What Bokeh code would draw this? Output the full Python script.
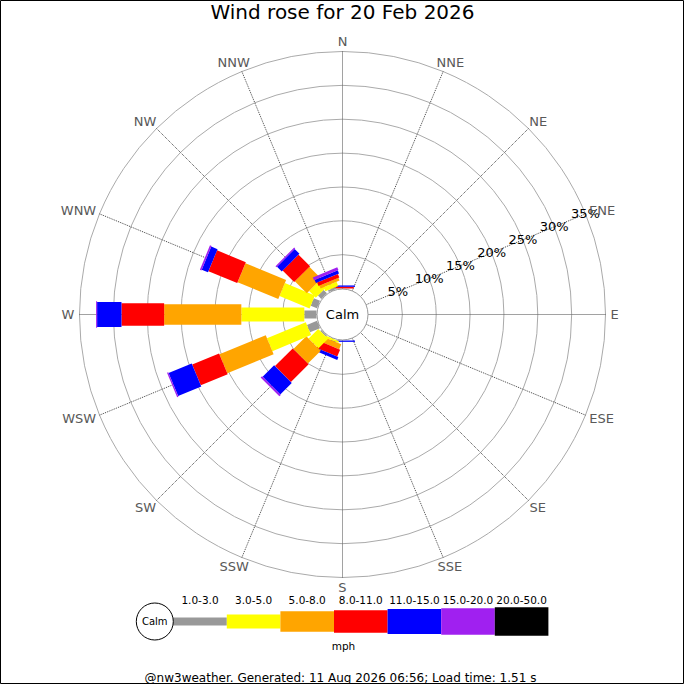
import math
from bokeh.plotting import figure
from bokeh.models import Range1d, ColumnDataSource
from bokeh.core.properties import value
from bokeh.embed import file_html
from bokeh.resources import INLINE

# ---------------- data ----------------
title_text = "Wind rose for 20 Feb 2026"
footer_text = "@nw3weather. Generated: 11 Aug 2026 06:56; Load time: 1.51 s"
calm_label = "Calm"
unit_label = "mph"
directions = ["N", "NNE", "NE", "ENE", "E", "ESE", "SE", "SSE",
              "S", "SSW", "SW", "WSW", "W", "WNW", "NW", "NNW"]
speed_bins = ["1.0-3.0", "3.0-5.0", "5.0-8.0", "8.0-11.0",
              "11.0-15.0", "15.0-20.0", "20.0-50.0"]
bin_colors = ["#999999", "#ffff00", "#ffa500", "#ff0000",
              "#0000ff", "#a020f0", "#000000"]
# percentage of time per direction (N .. NNW) for each speed bin
pct_1_3   = [0, 0, 0, 0, 0, 0, 0, 0, 0, 0,    0.2, 1.6, 1.8,  1.0,  0.7, 0.3]
pct_3_5   = [0, 0, 0, 0, 0, 0, 0, 0, 0, 0.3,  2.0, 6.2, 9.3,  4.8,  1.4, 0.65]
pct_5_8   = [0, 0, 0, 0, 0, 0, 0, 0, 0, 0.8,  2.7, 7.4, 11.4, 6.5,  2.5, 0.45]
pct_8_11  = [0.25, 0, 0, 0, 0, 0, 0, 0, 0, 1.1, 3.7, 4.3, 6.3, 4.6, 2.4, 0.55]
pct_11_15 = [0.2, 0, 0, 0, 0, 0, 0, 0, 0.2, 0.45, 2.4, 3.7, 3.6, 1.0, 1.0, 0.5]
pct_15_20 = [0, 0, 0, 0, 0, 0, 0, 0, 0, 0,    0.3, 0.2, 0.15, 0.25, 0.2, 0.45]
pct_20_50 = [0, 0, 0, 0, 0, 0, 0, 0, 0, 0,    0,   0,   0,    0,    0,   0]
ring_pcts = [5, 10, 15, 20, 25, 30, 35]

series = [pct_1_3, pct_3_5, pct_5_8, pct_8_11, pct_11_15, pct_15_20, pct_20_50]

# ---------------- layout constants (pixels) ----------------
W = H = 684
R0 = 26.0                       # calm circle radius
R_OUT = 263.0                   # radius of the outer (35%) ring
K = (R_OUT - R0) / ring_pcts[-1]  # pixels per percent
bar_widths = [8, 14, 20.5, 22.5, 25, 26.5, 28.5]
FONT = value("DejaVu Sans")


def rad(pct):
    return R0 + K * pct


p = figure(width=W, height=H, output_backend="svg", toolbar_location=None,
           x_range=Range1d(-342, 342), y_range=Range1d(-370, 314),
           min_border=0, background_fill_color="white",
           border_fill_color="white")
p.axis.visible = False
p.grid.visible = False
p.outline_line_color = "black"
p.outline_line_width = 1

# rings
p.circle(x=[0] * len(ring_pcts), y=[0] * len(ring_pcts),
         radius=[rad(v) for v in ring_pcts],
         fill_color=None, line_color="#aaaaaa", line_width=1)

# spokes
n = len(directions)
angs = [math.radians(90 - 360.0 / n * i) for i in range(n)]
p.segment(x0=[R0 * math.cos(a) for a in angs], y0=[R0 * math.sin(a) for a in angs],
          x1=[R_OUT * math.cos(a) for a in angs], y1=[R_OUT * math.sin(a) for a in angs],
          line_color="#444444", line_width=1, line_dash="1 1")

# bars
bx, by, bw, bh, ba, bc = [], [], [], [], [], []
for d in range(n):
    a = angs[d]
    cum = 0.0
    for j, s in enumerate(series):
        v = s[d]
        if v <= 0:
            continue
        r0 = rad(cum)
        cum += v
        r1 = rad(cum)
        rm = (r0 + r1) / 2
        bx.append(rm * math.cos(a))
        by.append(rm * math.sin(a))
        bw.append(r1 - r0)
        bh.append(bar_widths[j])
        ba.append(a)
        bc.append(bin_colors[j])
p.rect(x="x", y="y", width="w", height="h", angle="a", fill_color="c",
       line_color=None,
       source=ColumnDataSource(dict(x=bx, y=by, w=bw, h=bh, a=ba, c=bc)))

# calm circle
p.circle(x=[0], y=[0], radius=[R0 - 0.5], fill_color="white",
         line_color="#999999", line_width=1)
p.text(x=[0], y=[0], text=[calm_label], text_font=FONT,
       text_font_size=value("13px"), text_color="black",
       text_align="center", text_baseline="middle")

# percentage labels along ENE spoke
a_lab = math.radians(22.5)
p.text(x=[rad(v) * math.cos(a_lab) for v in ring_pcts],
       y=[rad(v) * math.sin(a_lab) for v in ring_pcts],
       text=["%d%%" % v for v in ring_pcts], text_font=FONT,
       text_font_size=value("13px"), text_color="black",
       text_align="center", text_baseline="middle")

# direction labels
cw = {"N": 9.7, "E": 8.2, "S": 8.3, "W": 12.9}
lx, ly = [], []
for i, lab in enumerate(directions):
    th = math.radians(360.0 / n * i)
    hw = sum(cw[c] for c in lab) / 2
    lx.append(268 * math.sin(th) + hw * math.sin(th))
    ly.append(268 * math.cos(th) + 4.8 * math.cos(th))
p.text(x=lx, y=ly, text=directions, text_font=FONT,
       text_font_size=value("13px"), text_color="#595959",
       text_align="center", text_baseline="middle")

# title
p.text(x=[0], y=[302.5], text=[title_text], text_font=FONT,
       text_font_size=value("20px"), text_color="black",
       text_align="center", text_baseline="middle")

# legend
LEG_Y = -307
LEG_X0 = -169.3
LEG_STEP = 53.6
p.rect(x=[LEG_X0 + LEG_STEP * (j + 0.5) for j in range(len(speed_bins))],
       y=[LEG_Y] * len(speed_bins), width=[LEG_STEP] * len(speed_bins),
       height=bar_widths, fill_color=bin_colors, line_color=None)
p.circle(x=[-187.7], y=[LEG_Y], radius=[18.5], fill_color="white",
         line_color="black", line_width=1)
p.text(x=[-187.7], y=[LEG_Y], text=[calm_label], text_font=FONT,
       text_font_size=value("10px"), text_color="black",
       text_align="center", text_baseline="middle")
p.text(x=[LEG_X0 + LEG_STEP * (j + 0.5) for j in range(len(speed_bins))],
       y=[-285] * len(speed_bins), text=speed_bins, text_font=FONT,
       text_font_size=value("10.5px"), text_color="black",
       text_align="center", text_baseline="middle")
p.text(x=[1], y=[-331], text=[unit_label], text_font=FONT,
       text_font_size=value("10.5px"), text_color="black",
       text_align="center", text_baseline="middle")

# footer
p.text(x=[-2], y=[-363], text=[footer_text], text_font=FONT,
       text_font_size=value("12px"), text_color="black",
       text_align="center", text_baseline="middle")

open("out.html", "w").write(file_html(p, INLINE))
